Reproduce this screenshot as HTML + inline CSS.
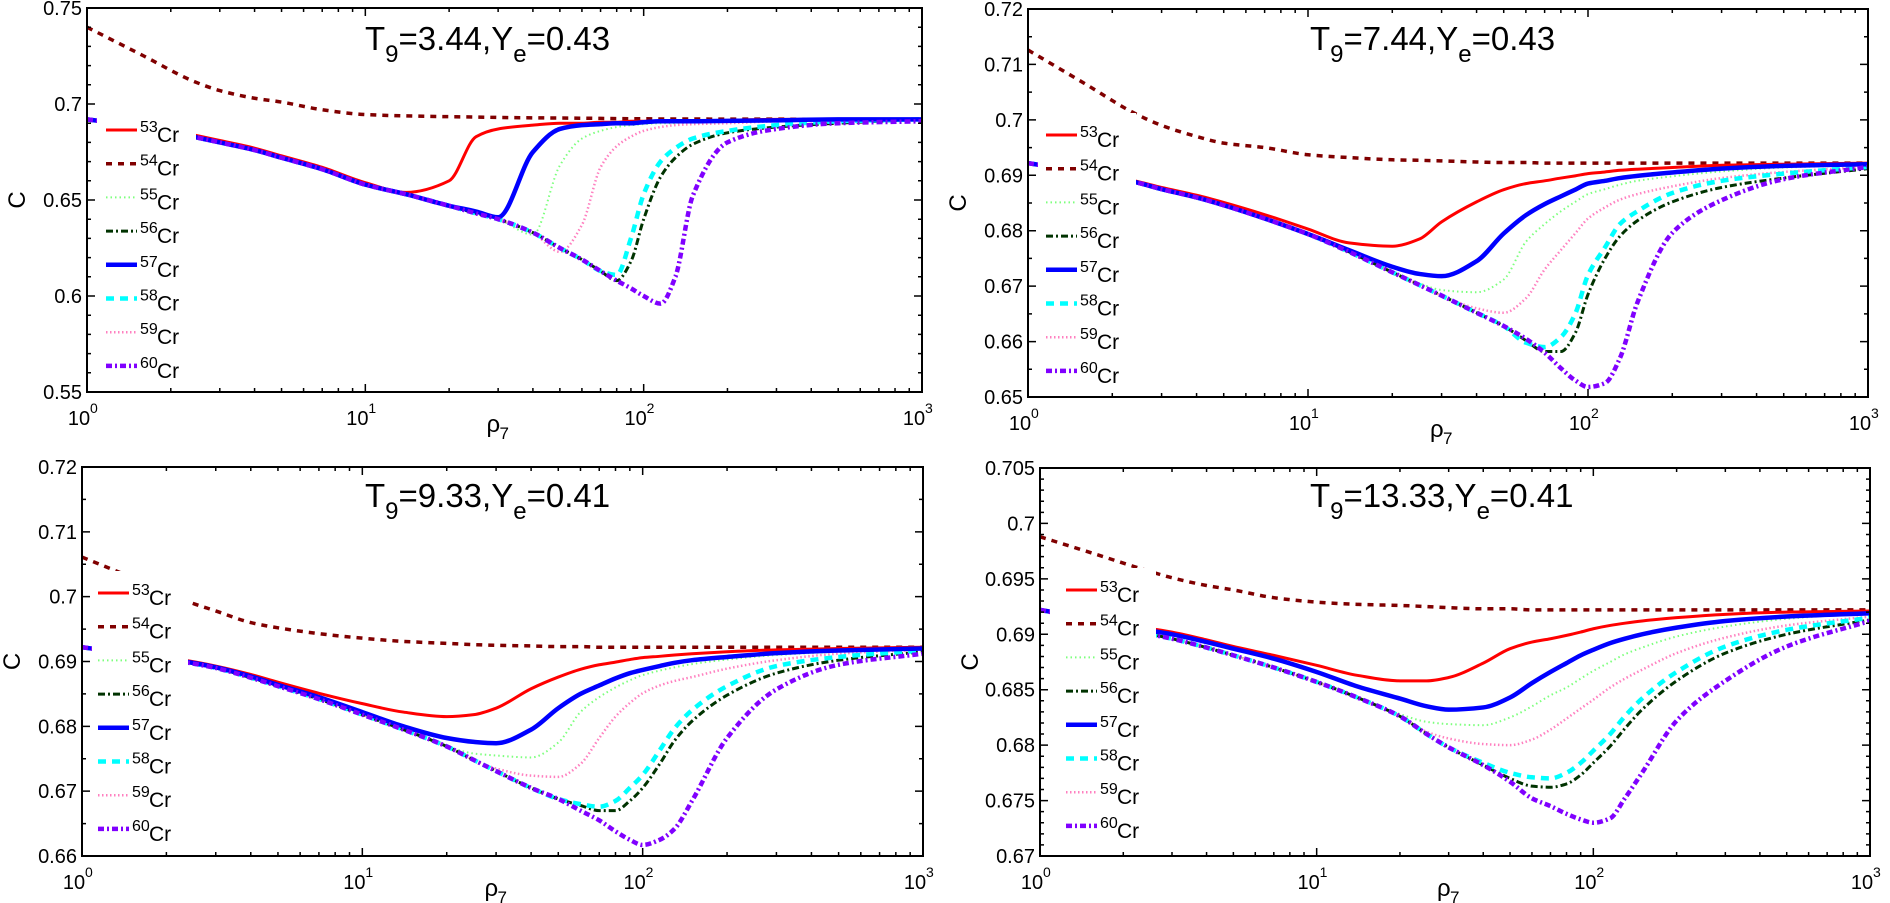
<!DOCTYPE html>
<html><head><meta charset="utf-8"><style>
html,body{margin:0;padding:0;background:#fff;}
svg{display:block;font-family:"Liberation Sans",Arial,sans-serif;}
</style></head><body>
<svg id="chart" width="1890" height="903" viewBox="0 0 1890 903" xmlns="http://www.w3.org/2000/svg"></svg>
<script>
// ---- data ----
const rhoGrid = [1,1.6,2.4,3,4,5,7,10,14,20,25,30,40,50,60,70,80,90,100,115,130,150,200,300,500,1000];
const isotopes = ["53","54","55","56","57","58","59","60"];
const panelTitlesT9 = ["3.44","7.44","9.33","13.33"];
const panelTitlesYe = ["0.43","0.43","0.41","0.41"];
const yTicksTL = ["0.55","0.6","0.65","0.7","0.75"];
const yTicksTR = ["0.65","0.66","0.67","0.68","0.69","0.7","0.71","0.72"];
const yTicksBL = ["0.66","0.67","0.68","0.69","0.7","0.71","0.72"];
const yTicksBR = ["0.67","0.675","0.68","0.685","0.69","0.695","0.7","0.705"];
const xTickExps = [0,1,2,3];

// Panel TL (T9=3.44)
const tl53 = [.692,.689,.684,.681,.677,.673,.667,.659,.654,.660,.683,.687,.689,.690,.690,.6905,.6905,.691,.691,.691,.691,.6912,.6915,.692,.692,.692];
const tl54 = [.740,.725,.712,.707,.703,.701,.697,.6945,.6938,.6934,.6932,.693,.6928,.6927,.6926,.6925,.6924,.6923,.6923,.6922,.6922,.6922,.6921,.6921,.692,.692];
const tl55 = [.692,.688,.683,.680,.676,.672,.666,.658,.653,.647,.643,.640,.632,.668,.682,.686,.688,.689,.6895,.690,.690,.6905,.691,.6915,.692,.692];
const tl56 = [.692,.688,.683,.680,.676,.672,.666,.658,.653,.647,.643,.640,.633,.625,.619,.613,.608,.618,.640,.662,.672,.679,.685,.688,.690,.692];
const tl57 = [.692,.688,.683,.680,.676,.672,.666,.658,.653,.647,.644,.641,.675,.687,.689,.6895,.690,.690,.6905,.691,.691,.691,.6912,.6915,.692,.692];
const tl58 = [.692,.688,.683,.680,.676,.672,.666,.658,.653,.647,.643,.640,.633,.625,.619,.613,.611,.630,.653,.670,.677,.682,.686,.689,.691,.692];
const tl59 = [.692,.688,.683,.680,.676,.672,.666,.658,.653,.647,.643,.640,.633,.623,.637,.667,.678,.683,.686,.688,.689,.6895,.690,.691,.6915,.692];
const tl60 = [.692,.688,.683,.680,.676,.672,.666,.658,.653,.647,.643,.640,.633,.625,.619,.613,.608,.604,.600,.596,.610,.652,.680,.687,.690,.691];

// Panel TR (T9=7.44)
const tr53 = [.6922,.6907,.689,.6878,.6864,.6851,.6829,.6803,.6778,.6772,.6785,.6816,.6852,.6874,.6885,.689,.6895,.6899,.6903,.6906,.6909,.6911,.6914,.6918,.692,.6922];
const tr54 = [.7126,.7065,.7012,.699,.697,.6958,.695,.6937,.6932,.6928,.6927,.6926,.6924,.6923,.6923,.6922,.6922,.6922,.6922,.6922,.6922,.6922,.6922,.6922,.6922,.6922];
const tr55 = [.6922,.6905,.6888,.6875,.686,.6846,.6822,.6794,.6762,.6725,.6705,.6693,.6689,.6712,.678,.6812,.6835,.6852,.6866,.6875,.6883,.689,.6898,.6907,.6914,.6918];
const tr56 = [.6922,.6905,.6888,.6875,.686,.6846,.6822,.6794,.6762,.6725,.6702,.6683,.6652,.6628,.6602,.6582,.6582,.6615,.6685,.675,.679,.6818,.6852,.6878,.6895,.6912];
const tr57 = [.6922,.6905,.6888,.6875,.686,.6846,.6822,.6794,.6765,.6735,.6722,.6718,.6745,.6795,.6828,.6848,.6862,.6874,.6885,.689,.6895,.6899,.6905,.6912,.6917,.692];
const tr58 = [.6922,.6905,.6888,.6875,.686,.6846,.6822,.6794,.6762,.6725,.6702,.6683,.6652,.6628,.6598,.659,.6608,.665,.672,.677,.6812,.6835,.6868,.689,.6903,.6915];
const tr59 = [.6922,.6905,.6888,.6875,.686,.6846,.6822,.6794,.6762,.6725,.6702,.6683,.666,.6652,.6678,.673,.6765,.6795,.6822,.6842,.6856,.6866,.688,.6895,.6906,.6915];
const tr60 = [.6922,.6905,.6888,.6875,.686,.6846,.6822,.6794,.6762,.6725,.6702,.6683,.6652,.6628,.6605,.658,.6552,.653,.6518,.6525,.657,.667,.6796,.6855,.6893,.6915];

// Panel BL (T9=9.33)
const bl53 = [.6922,.6912,.6901,.6893,.688,.6868,.6851,.6835,.6822,.6815,.6818,.6828,.6858,.6876,.6888,.6895,.6899,.6903,.6906,.6908,.691,.6912,.6915,.6918,.692,.6922];
const bl54 = [.7061,.7025,.6992,.6978,.696,.6952,.6943,.6936,.6931,.6928,.6926,.6925,.6924,.6923,.6923,.6922,.6922,.6922,.6922,.6922,.6922,.6922,.6922,.6922,.6922,.6922];
const bl55 = [.6922,.691,.6898,.689,.6875,.6862,.6842,.6818,.6795,.6769,.6758,.6755,.6752,.6775,.6822,.6845,.686,.6871,.6879,.6886,.6891,.6896,.6903,.691,.6915,.6919];
const bl56 = [.6922,.691,.6898,.689,.6875,.6862,.6842,.6818,.6795,.6769,.6748,.6731,.6705,.6688,.6678,.667,.667,.6685,.6705,.6742,.6778,.6808,.6848,.6882,.6902,.6915];
const bl57 = [.6922,.691,.6899,.6891,.6877,.6864,.6845,.6822,.68,.6782,.6776,.6774,.6795,.6828,.685,.6863,.6874,.6882,.6887,.6893,.6898,.6902,.6907,.6913,.6917,.692];
const bl58 = [.6922,.691,.6898,.689,.6875,.6862,.6842,.6818,.6795,.6769,.6748,.6731,.6705,.6688,.668,.6676,.6685,.6705,.6725,.6763,.6797,.6825,.6862,.6893,.6907,.6917];
const bl59 = [.6922,.691,.6898,.689,.6875,.6862,.6842,.6818,.6795,.6769,.6748,.6735,.6724,.6722,.6742,.6782,.6815,.6836,.6851,.6863,.687,.6876,.6889,.6902,.6912,.6918];
const bl60 = [.6922,.691,.6898,.689,.6875,.6862,.6842,.6818,.6795,.6769,.6748,.6731,.6705,.6688,.667,.6655,.6638,.6625,.6617,.6625,.6642,.6685,.6782,.6857,.6895,.6912];

// Panel BR (T9=13.33)
const br53 = [.6922,.6914,.6906,.6902,.6895,.6889,.6881,.6872,.6863,.6858,.6858,.6861,.6874,.6887,.6893,.6896,.6899,.6902,.6905,.6908,.691,.6912,.6915,.6918,.692,.6921];
const br54 = [.6988,.6972,.6958,.6951,.6944,.694,.6933,.6929,.6927,.6926,.6925,.6924,.6923,.6923,.6922,.6922,.6922,.6922,.6922,.6922,.6922,.6922,.6922,.6922,.6922,.6922];
const br55 = [.6922,.6912,.6901,.6896,.6888,.6881,.687,.6857,.6843,.6828,.6821,.6819,.6818,.6825,.6835,.6845,.6852,.686,.6867,.6875,.6882,.6888,.6898,.6907,.6914,.6919];
const br56 = [.6922,.6912,.6901,.6896,.6888,.6881,.687,.6857,.6843,.6826,.681,.6798,.6782,.677,.6763,.6762,.6765,.6773,.6784,.6799,.6815,.6832,.6858,.6883,.69,.6913];
const br57 = [.6922,.6913,.6904,.69,.6893,.6887,.6878,.6866,.6853,.6842,.6835,.6832,.6834,.6843,.6856,.6866,.6874,.6881,.6886,.6892,.6896,.69,.6906,.6912,.6916,.6919];
const br58 = [.6922,.6912,.6901,.6896,.6888,.6881,.687,.6857,.6843,.6826,.681,.6798,.6784,.6775,.6771,.677,.6775,.6784,.6795,.681,.6826,.6842,.6866,.6889,.6904,.6915];
const br59 = [.6922,.6912,.6901,.6896,.6888,.6881,.687,.6857,.6843,.6826,.6812,.6806,.6801,.68,.6805,.6814,.6824,.6833,.6841,.6852,.686,.6868,.6883,.6897,.6908,.6916];
const br60 = [.6922,.6912,.6901,.6896,.6888,.6881,.687,.6857,.6843,.6826,.681,.6798,.6782,.6767,.6752,.6745,.6738,.6733,.673,.6734,.6752,.6775,.6822,.6858,.6889,.6912];

const seriesTL = [tl53,tl54,tl55,tl56,tl57,tl58,tl59,tl60];
const seriesTR = [tr53,tr54,tr55,tr56,tr57,tr58,tr59,tr60];
const seriesBL = [bl53,bl54,bl55,bl56,bl57,bl58,bl59,bl60];
const seriesBR = [br53,br54,br55,br56,br57,br58,br59,br60];

// ---- layout / styles ----
const styles = [
  {c:"#ff0000", w:3, d:""},
  {c:"#800000", w:3.5, d:"6,6"},
  {c:"#7dff7d", w:2, d:"1.5,3"},
  {c:"#003300", w:3, d:"7,3,2,3"},
  {c:"#0000ff", w:4.5, d:""},
  {c:"#00ffff", w:4.5, d:"8,6"},
  {c:"#ff80c0", w:2.5, d:"1.5,2.5"},
  {c:"#8000ff", w:4.5, d:"6,3,2,3"}
];
const panels = [
  {name:"tl", x0:87, x1:922, y0:8, y1:392, ymin:.55, ymax:.75, minor:.01, yt:yTicksTL, series:seriesTL, legX:106, legY:130, titleX:365, titleY:50},
  {name:"tr", x0:1028, x1:1868, y0:9, y1:397, ymin:.65, ymax:.72, minor:.005, yt:yTicksTR, series:seriesTR, legX:1046, legY:135, titleX:1310, titleY:50},
  {name:"bl", x0:82, x1:923, y0:467, y1:856, ymin:.66, ymax:.72, minor:.005, yt:yTicksBL, series:seriesBL, legX:98, legY:593, titleX:365, titleY:507},
  {name:"br", x0:1040, x1:1870, y0:468, y1:856, ymin:.67, ymax:.705, minor:.001, yt:yTicksBR, series:seriesBR, legX:1066, legY:590, titleX:1310, titleY:507}
];
const NS = "http://www.w3.org/2000/svg";
const svg = document.getElementById("chart");
function mk(tag, attrs, parent){
  const e = document.createElementNS(NS, tag);
  for (const k in attrs) e.setAttribute(k, attrs[k]);
  (parent||svg).appendChild(e);
  return e;
}
function monotone(pts){
  const n=pts.length; const dx=[],s=[],m=[];
  for(let i=0;i<n-1;i++){dx[i]=pts[i+1][0]-pts[i][0]; s[i]=(pts[i+1][1]-pts[i][1])/dx[i];}
  m[0]=s[0]; m[n-1]=s[n-2];
  for(let i=1;i<n-1;i++){
    if(s[i-1]*s[i]<=0) m[i]=0;
    else { const w1=2*dx[i]+dx[i-1], w2=dx[i]+2*dx[i-1]; m[i]=(w1+w2)/(w1/s[i-1]+w2/s[i]); }
  }
  let d="M"+pts[0][0].toFixed(2)+","+pts[0][1].toFixed(2);
  for(let i=0;i<n-1;i++){
    const h=dx[i]/3;
    d+=" C"+(pts[i][0]+h).toFixed(2)+","+(pts[i][1]+m[i]*h).toFixed(2)+" "+(pts[i+1][0]-h).toFixed(2)+","+(pts[i+1][1]-m[i+1]*h).toFixed(2)+" "+pts[i+1][0].toFixed(2)+","+pts[i+1][1].toFixed(2);
  }
  return d;
}
panels.forEach((p,pi)=>{
  const g = mk("g",{});
  
  
  const xs = v => p.x0 + Math.log10(v)/3*(p.x1-p.x0);
  const ys = v => p.y1 - (v-p.ymin)/(p.ymax-p.ymin)*(p.y1-p.y0);
  const cp = mk("clipPath",{id:"clip"+pi},g);
  mk("rect",{x:p.x0,y:p.y0,width:p.x1-p.x0,height:p.y1-p.y0},cp);
  const cg = mk("g",{"clip-path":"url(#clip"+pi+")"},g);
  const order=[1,2,6,3,5,0,4,7];
  order.forEach(k=>{
    const arr=p.series[k]; const st=styles[k];
    const pts=rhoGrid.map((r,i)=>[xs(r),ys(arr[i])]);
    const path=mk("path",{d:monotone(pts),fill:"none",stroke:st.c,"stroke-width":st.w,"stroke-dasharray":st.d},cg);
    
    
  });
  const dy=33.7;
  const lg = mk("g",{},g);
  
  
  mk("rect",{x:p.x0+10,y:p.legY-22,width:p.legX+90-(p.x0+10),height:7*dy+44,fill:"#fff"},lg);
  isotopes.forEach((iso,k)=>{
    const y=p.legY+k*dy, st=styles[k];
    const e=mk("g",{},lg);
    
    
    mk("line",{x1:p.legX,y1:y,x2:p.legX+31,y2:y,stroke:st.c,"stroke-width":st.w,"stroke-dasharray":st.d},e);
    const t1=mk("text",{x:p.legX+34,y:y+2,"font-size":16,fill:"#000"},e); t1.textContent=iso;
    const t2=mk("text",{x:p.legX+51,y:y+12,"font-size":21,fill:"#000"},e); t2.textContent="Cr";
  });
  const ax=mk("rect",{x:p.x0,y:p.y0,width:p.x1-p.x0,height:p.y1-p.y0,fill:"none",stroke:"#000","stroke-width":2},g);
  
  
  let tk="";
  for(let e=0;e<3;e++) for(let m=1;m<=9;m++){
    const v=m*Math.pow(10,e); const x=xs(v); const L=m===1?8:4;
    tk+=`M${x},${p.y1}v${-L}M${x},${p.y0}v${L}`;
  }
  tk+=`M${p.x1},${p.y1}v-8M${p.x1},${p.y0}v8`;
  const nmin=Math.round((p.ymax-p.ymin)/p.minor);
  const majors=p.yt.map(Number);
  for(let i=0;i<=nmin;i++){
    const v=p.ymin+i*p.minor; const y=ys(v);
    const isMaj=majors.some(mv=>Math.abs(mv-v)<1e-6); const L=isMaj?8:4;
    tk+=`M${p.x0},${y}h${L}M${p.x1},${y}h${-L}`;
  }
  const tp=mk("path",{d:tk,stroke:"#000","stroke-width":1.5,fill:"none"},g);
  
  
  p.yt.forEach(lbl=>{
    const t=mk("text",{x:p.x0-5,y:ys(Number(lbl))+7,"font-size":20,"text-anchor":"end",fill:"#000"},g);
    
    
    t.textContent=lbl;
  });
  xTickExps.forEach(e=>{
    const x=xs(Math.pow(10,e));
    const t=mk("text",{x:x-8,y:p.y1+33,"font-size":20,"text-anchor":"middle",fill:"#000"},g);
    
    
    t.textContent="10";
    const s=mk("text",{x:x+3,y:p.y1+21,"font-size":14,fill:"#000"},g);
    s.textContent=String(e);
  });
  const xl=mk("text",{x:(p.x0+p.x1)/2-18,y:p.y1+40,"font-size":24,fill:"#000"},g);
  
  
  xl.textContent="ρ";
  const xl2=mk("text",{x:(p.x0+p.x1)/2-5,y:p.y1+47,"font-size":17,fill:"#000"},g); xl2.textContent="7";
  const yl=mk("text",{x:0,y:0,"font-size":24,fill:"#000","text-anchor":"middle",transform:`translate(${p.x0-62},${(p.y0+p.y1)/2}) rotate(-90)`},g);
  
  
  yl.textContent="C";
  const tt=mk("text",{x:p.titleX,y:p.titleY,"font-size":33,fill:"#000"},g);
  
  
  const a=mk("tspan",{},tt); a.textContent="T";
  const b=mk("tspan",{dy:12,"font-size":24},tt); b.textContent="9";
  const c=mk("tspan",{dy:-12},tt); c.textContent="="+panelTitlesT9[pi]+",Y";
  const d=mk("tspan",{dy:12,"font-size":24},tt); d.textContent="e";
  const f=mk("tspan",{dy:-12},tt); f.textContent="="+panelTitlesYe[pi];
});
</script>
</body></html>
